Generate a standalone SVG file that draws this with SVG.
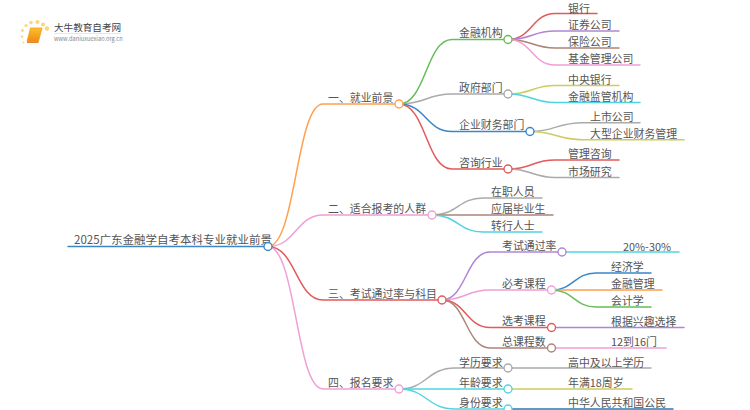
<svg xmlns="http://www.w3.org/2000/svg" width="750" height="410" viewBox="0 0 750 410">
<defs><linearGradient id="book" x1="0" y1="0" x2="0" y2="1"><stop offset="0" stop-color="#fbc02d"/><stop offset="1" stop-color="#f08a12"/></linearGradient></defs>
<style>
text{font-family:"Noto Sans CJK SC","Noto Sans",sans-serif;font-size:10.9px;fill:#555;transform:translateY(.8px)}
.c{fill:none;stroke-width:1.5;stroke-linecap:round}
.k{fill:#fff;stroke-width:1.4}
.b{stroke:#3a87c8}.o{stroke:#ffa04d}.p{stroke:#f09fd6}.r{stroke:#e25a5a}.g{stroke:#67bd5c}.y{stroke:#aaa}.u{stroke:#b085d6}.w{stroke:#ad8478}.l{stroke:#cfcb5e}.a{stroke:#4fd5e0}.d{stroke:#2f78b0}
.dot{fill:#fcd77a}
</style>
<rect width="750" height="410" fill="#fff"/>
<g id="logo">
<circle class="dot" cx="47" cy="28.500" r="2.200"/><circle class="dot" cx="43" cy="24.500" r="2"/><circle class="dot" cx="37.500" cy="22" r="2"/><circle class="dot" cx="31" cy="22.500" r="1.800"/><circle class="dot" cx="26" cy="25.500" r="1.600"/><circle class="dot" cx="22.500" cy="30.500" r="1.400"/><circle class="dot" cx="22" cy="36.500" r="1.200"/><circle class="dot" cx="23.500" cy="42.500" r="1"/>
<path d="M30.500 28H42L38.500 41.500H27Z" fill="url(#book)" stroke="#f0a020" stroke-width=".8" stroke-linejoin="round"/><path d="M27 42.300H38.500" stroke="#e0761a" stroke-width="1.200"/>
<text x="54" y="30.500" style="font-size:9.600px;fill:#444">大牛教育自考网</text>
<path d="M54 33.500H121" stroke="#ddd" stroke-width=".7"/>
<text x="54" y="40.500" style="font-size:5.700px;fill:#888">www.daniuxuexiao.org.cn</text>
</g>
<g id="connectors">
<path class="c b" d="M68 246.500H268"/>
<path class="c o" d="M268 246.500C296 246.500 296 104 323 104H399"/>
<path class="c p" d="M268 246.500C296 246.500 296 215 323 215H432"/>
<path class="c r" d="M268 246.500C296 246.500 296 300 323 300H442"/>
<path class="c p" d="M268 246.500C296 246.500 296 389 323 389H399"/>
<path class="c g" d="M399 104C426 104 426 39.500 452 39.500H508"/>
<path class="c y" d="M399 104C426 104 426 94 452 94H508"/>
<path class="c b" d="M399 104C426 104 426 131.500 452 131.500H530"/>
<path class="c r" d="M399 104C426 104 426 169 452 169H508"/>
<path class="c r" d="M508 39.500C532 39.500 532 13.500 555 13.500H597"/>
<path class="c u" d="M508 39.500C532 39.500 532 31 555 31H619"/>
<path class="c w" d="M508 39.500C532 39.500 532 48 555 48H619"/>
<path class="c p" d="M508 39.500C532 39.500 532 65 555 65H640"/>
<path class="c l" d="M508 94C532 94 532 85.500 555 85.500H619"/>
<path class="c a" d="M508 94C532 94 532 102.500 555 102.500H640"/>
<path class="c y" d="M530 131.500C556 131.500 556 122.700 583 122.700H640"/>
<path class="c l" d="M530 131.500C556 131.500 556 139.700 583 139.700H684"/>
<path class="c r" d="M508 169C532 169 532 160 555 160H619"/>
<path class="c y" d="M508 169C532 169 532 177.500 555 177.500H619"/>
<path class="c y" d="M432 215C458 215 458 198 483 198H542"/>
<path class="c w" d="M432 215H553"/>
<path class="c a" d="M432 215C458 215 458 232 483 232H542"/>
<path class="c u" d="M442 300C466 300 466 252 490 252H562"/>
<path class="c p" d="M442 300C466 300 466 290 490 290H551.500"/>
<path class="c r" d="M442 300C466 300 466 327.500 490 327.500H551.500"/>
<path class="c w" d="M442 300C466 300 466 348 490 348H551.500"/>
<path class="c a" d="M562 252H679"/>
<path class="c b" d="M551.500 290C574 290 574 273 596 273H651"/>
<path class="c o" d="M551.500 290H662"/>
<path class="c g" d="M551.500 290C574 290 574 307 596 307H651"/>
<path class="c u" d="M551.500 327.500H684"/>
<path class="c p" d="M551.500 348H666"/>
<path class="c y" d="M399 389C427 389 427 368 455 368H651"/>
<path class="c a" d="M399 389H508"/>
<path class="c l" d="M508 389H632"/>
<path class="c a" d="M399 389C427 389 427 409 455 409H508"/>
<path class="c d" d="M508 409H673"/>
</g>
<g id="root"><text x="74" y="243" style="font-size:11.500px">2025广东金融学自考本科专业就业前景</text><circle class="k b" cx="268" cy="246.500" r="4"/></g>
<g id="n1"><text x="328" y="101">一、就业前景</text><circle class="k o" cx="399" cy="104" r="4"/></g>
<g id="n2"><text x="328" y="212">二、适合报考的人群</text><circle class="k p" cx="432" cy="215" r="4"/></g>
<g id="n3"><text x="328" y="297">三、考试通过率与科目</text><circle class="k r" cx="442" cy="300" r="4"/></g>
<g id="n4"><text x="328" y="386">四、报名要求</text><circle class="k p" cx="399" cy="389" r="4"/></g>
<g id="n11"><text x="459" y="36">金融机构</text><circle class="k g" cx="508" cy="39.500" r="4"/></g>
<g id="n12"><text x="459" y="91">政府部门</text><circle class="k y" cx="508" cy="94" r="4"/></g>
<g id="n13"><text x="459" y="128">企业财务部门</text><circle class="k b" cx="530" cy="131.500" r="4"/></g>
<g id="n14"><text x="459" y="166">咨询行业</text><circle class="k r" cx="508" cy="169" r="4"/></g>
<g id="l1"><text x="568" y="11.800">银行</text></g>
<g id="l2"><text x="568" y="28">证券公司</text></g>
<g id="l3"><text x="568" y="45">保险公司</text></g>
<g id="l4"><text x="568" y="62">基金管理公司</text></g>
<g id="l5"><text x="568" y="83">中央银行</text></g>
<g id="l6"><text x="568" y="100">金融监管机构</text></g>
<g id="l7"><text x="590" y="120">上市公司</text></g>
<g id="l8"><text x="590" y="137">大型企业财务管理</text></g>
<g id="l9"><text x="568" y="157">管理咨询</text></g>
<g id="l10"><text x="568" y="175">市场研究</text></g>
<g id="l11"><text x="491" y="195">在职人员</text></g>
<g id="l12"><text x="491" y="212">应届毕业生</text></g>
<g id="l13"><text x="491" y="229">转行人士</text></g>
<g id="n31"><text x="502" y="249">考试通过率</text><circle class="k u" cx="562" cy="252" r="4"/></g>
<g id="n32"><text x="502" y="287">必考课程</text><circle class="k p" cx="551.500" cy="290" r="4"/></g>
<g id="n33"><text x="502" y="324">选考课程</text><circle class="k r" cx="551.500" cy="327.500" r="4"/></g>
<g id="n34"><text x="502" y="345">总课程数</text><circle class="k w" cx="551.500" cy="348" r="4"/></g>
<g id="l14"><text x="623" y="250">20%-30%</text></g>
<g id="l15"><text x="611" y="270">经济学</text></g>
<g id="l16"><text x="611" y="287">金融管理</text></g>
<g id="l17"><text x="611" y="304">会计学</text></g>
<g id="l18"><text x="611" y="325">根据兴趣选择</text></g>
<g id="l19"><text x="611" y="345">12到16门</text></g>
<g id="n41"><text x="459" y="366">学历要求</text><circle class="k y" cx="508" cy="368" r="4"/></g>
<g id="n42"><text x="459" y="386">年龄要求</text><circle class="k a" cx="508" cy="389" r="4"/></g>
<g id="n43"><text x="459" y="406">身份要求</text><circle class="k a" cx="508" cy="409" r="4"/></g>
<g id="l20"><text x="568" y="366">高中及以上学历</text></g>
<g id="l21"><text x="568" y="386">年满18周岁</text></g>
<g id="l22"><text x="568" y="406">中华人民共和国公民</text></g>
</svg>
